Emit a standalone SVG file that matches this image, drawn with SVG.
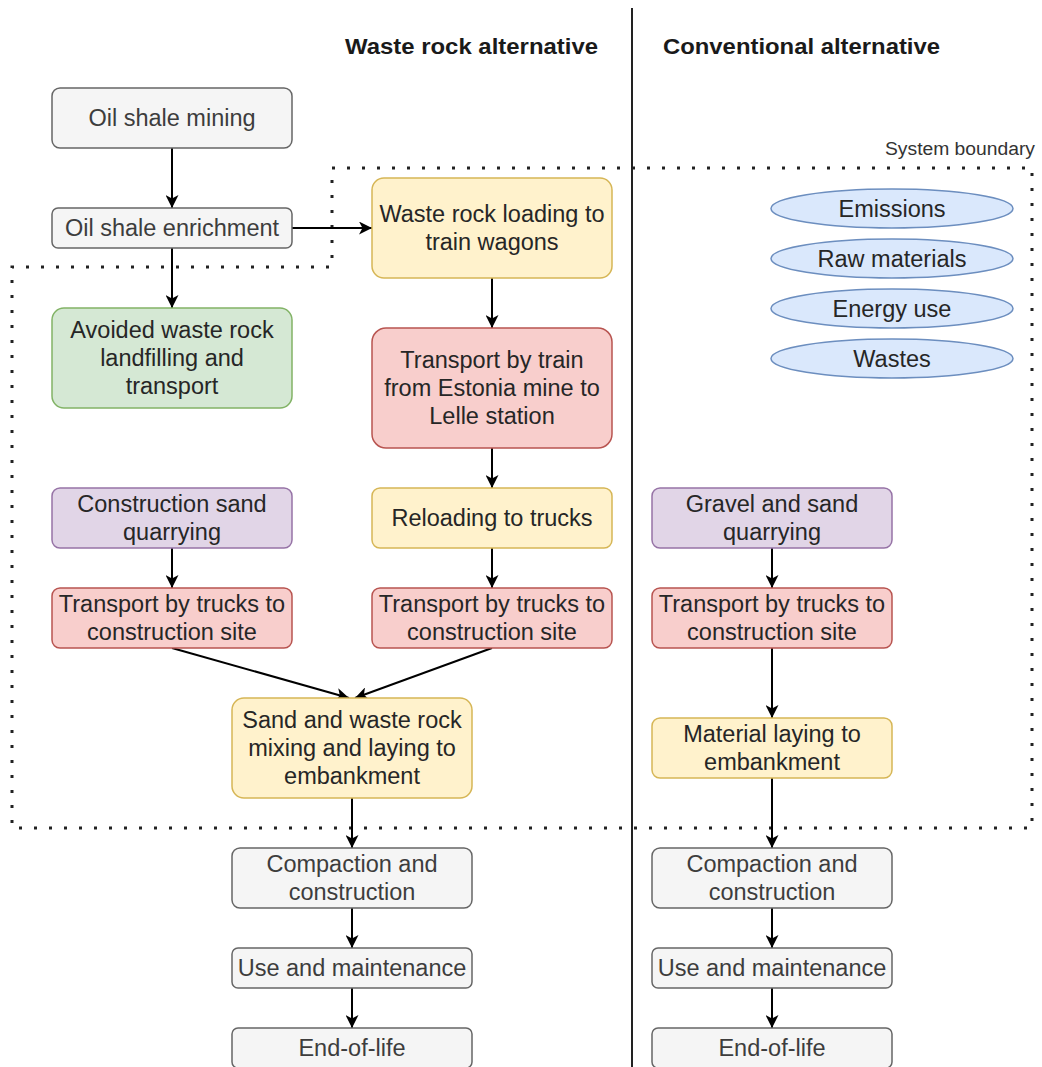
<svg xmlns="http://www.w3.org/2000/svg" width="1042" height="1067" viewBox="0 0 1042 1067">
<style>
text{font-family:"Liberation Sans",Arial,sans-serif;font-size:23.5px;text-anchor:middle;fill:#262626}
.gray rect{fill:#f5f5f5;stroke:#666666;stroke-width:1.5}
.gray text{fill:#3d3d3d}
.green rect{fill:#d5e8d4;stroke:#82b366;stroke-width:1.5}
.yellow rect{fill:#fff2cc;stroke:#d6b656;stroke-width:1.5}
.red rect{fill:#f8cecc;stroke:#b85450;stroke-width:1.5}
.purple rect{fill:#e1d5e7;stroke:#9673a6;stroke-width:1.5}
.blue ellipse{fill:#dae8fc;stroke:#6c8ebf;stroke-width:1.5}
.title{font-weight:bold;font-size:22px;text-anchor:start;fill:#1a1a1a}
.conn line{stroke:#000;stroke-width:2;marker-end:url(#arr)}
</style>
<defs>
<marker id="arr" viewBox="0 0 13 13" refX="13" refY="6.5" markerWidth="13" markerHeight="13" markerUnits="userSpaceOnUse" orient="auto">
<path d="M0,0 L13,6.5 L0,13 L3.5,6.5 Z" fill="#000"/>
</marker>
</defs>
<rect x="0" y="0" width="1042" height="1067" fill="#ffffff"/>

<g id="titles">
<text class="title" x="345" y="54" textLength="253" lengthAdjust="spacingAndGlyphs">Waste rock alternative</text>
<text class="title" x="663" y="54" textLength="277" lengthAdjust="spacingAndGlyphs">Conventional alternative</text>
</g>
<line id="divider" x1="632" y1="8" x2="632" y2="1067" stroke="#222" stroke-width="2"/>

<g id="system-boundary">
<path d="M332,168 L1032,168 L1032,828 L12,828 L12,267 L332,267 Z" fill="none" stroke="#222" stroke-width="3" stroke-dasharray="3 12"/>
<text x="1035" y="155" style="font-size:18px;text-anchor:end;fill:#333" textLength="150" lengthAdjust="spacingAndGlyphs">System boundary</text>
</g>

<g id="conn" class="conn">
<line x1="172" y1="148" x2="172" y2="208"/>
<line x1="172" y1="248" x2="172" y2="308"/>
<line x1="292" y1="228" x2="372" y2="228"/>
<line x1="492" y1="278" x2="492" y2="328"/>
<line x1="492" y1="448" x2="492" y2="488"/>
<line x1="492" y1="548" x2="492" y2="588"/>
<line x1="172" y1="548" x2="172" y2="588"/>
<line x1="172" y1="648" x2="349" y2="698"/>
<line x1="492" y1="648" x2="355" y2="698"/>
<line x1="352" y1="798" x2="352" y2="848"/>
<line x1="352" y1="908" x2="352" y2="948"/>
<line x1="352" y1="988" x2="352" y2="1028"/>
<line x1="772" y1="548" x2="772" y2="588"/>
<line x1="772" y1="648" x2="772" y2="718"/>
<line x1="772" y1="778" x2="772" y2="848"/>
<line x1="772" y1="908" x2="772" y2="948"/>
<line x1="772" y1="988" x2="772" y2="1028"/>
</g>

<g id="oil-shale-mining" class="gray"><rect x="52" y="88" width="240" height="60" rx="8"/><text x="172" y="126">Oil shale mining</text></g>
<g id="oil-shale-enrichment" class="gray"><rect x="52" y="208" width="240" height="40" rx="6"/><text x="172" y="236">Oil shale enrichment</text></g>
<g id="waste-rock-loading" class="yellow"><rect x="372" y="178" width="240" height="100" rx="12"/><text x="492" y="222">Waste rock loading to</text><text x="492" y="250">train wagons</text></g>
<g id="avoided-landfilling" class="green"><rect x="52" y="308" width="240" height="100" rx="12"/><text x="172" y="338">Avoided waste rock</text><text x="172" y="366">landfilling and</text><text x="172" y="394">transport</text></g>
<g id="transport-train" class="red"><rect x="372" y="328" width="240" height="120" rx="14"/><text x="492" y="368">Transport by train</text><text x="492" y="396">from Estonia mine to</text><text x="492" y="424">Lelle station</text></g>
<g id="construction-sand" class="purple"><rect x="52" y="488" width="240" height="60" rx="8"/><text x="172" y="512">Construction sand</text><text x="172" y="540">quarrying</text></g>
<g id="reloading-trucks" class="yellow"><rect x="372" y="488" width="240" height="60" rx="8"/><text x="492" y="526">Reloading to trucks</text></g>
<g id="trucks-left" class="red"><rect x="52" y="588" width="240" height="60" rx="8"/><text x="172" y="612">Transport by trucks to</text><text x="172" y="640">construction site</text></g>
<g id="trucks-mid" class="red"><rect x="372" y="588" width="240" height="60" rx="8"/><text x="492" y="612">Transport by trucks to</text><text x="492" y="640">construction site</text></g>
<g id="mixing-laying" class="yellow"><rect x="232" y="698" width="240" height="100" rx="12"/><text x="352" y="728">Sand and waste rock</text><text x="352" y="756">mixing and laying to</text><text x="352" y="784">embankment</text></g>
<g id="compaction-left" class="gray"><rect x="232" y="848" width="240" height="60" rx="8"/><text x="352" y="872">Compaction and</text><text x="352" y="900">construction</text></g>
<g id="use-left" class="gray"><rect x="232" y="948" width="240" height="40" rx="6"/><text x="352" y="976">Use and maintenance</text></g>
<g id="eol-left" class="gray"><rect x="232" y="1028" width="240" height="40" rx="6"/><text x="352" y="1056">End-of-life</text></g>

<g id="gravel-sand" class="purple"><rect x="652" y="488" width="240" height="60" rx="8"/><text x="772" y="512">Gravel and sand</text><text x="772" y="540">quarrying</text></g>
<g id="trucks-right" class="red"><rect x="652" y="588" width="240" height="60" rx="8"/><text x="772" y="612">Transport by trucks to</text><text x="772" y="640">construction site</text></g>
<g id="material-laying" class="yellow"><rect x="652" y="718" width="240" height="60" rx="8"/><text x="772" y="742">Material laying to</text><text x="772" y="770">embankment</text></g>
<g id="compaction-right" class="gray"><rect x="652" y="848" width="240" height="60" rx="8"/><text x="772" y="872">Compaction and</text><text x="772" y="900">construction</text></g>
<g id="use-right" class="gray"><rect x="652" y="948" width="240" height="40" rx="6"/><text x="772" y="976">Use and maintenance</text></g>
<g id="eol-right" class="gray"><rect x="652" y="1028" width="240" height="40" rx="6"/><text x="772" y="1056">End-of-life</text></g>

<g id="emissions" class="blue"><ellipse cx="892" cy="208.5" rx="121" ry="19.5"/><text x="892" y="217">Emissions</text></g>
<g id="raw-materials" class="blue"><ellipse cx="892" cy="258.5" rx="121" ry="19.5"/><text x="892" y="267">Raw materials</text></g>
<g id="energy-use" class="blue"><ellipse cx="892" cy="308.5" rx="121" ry="19.5"/><text x="892" y="317">Energy use</text></g>
<g id="wastes" class="blue"><ellipse cx="892" cy="358.5" rx="121" ry="19.5"/><text x="892" y="367">Wastes</text></g>
</svg>
